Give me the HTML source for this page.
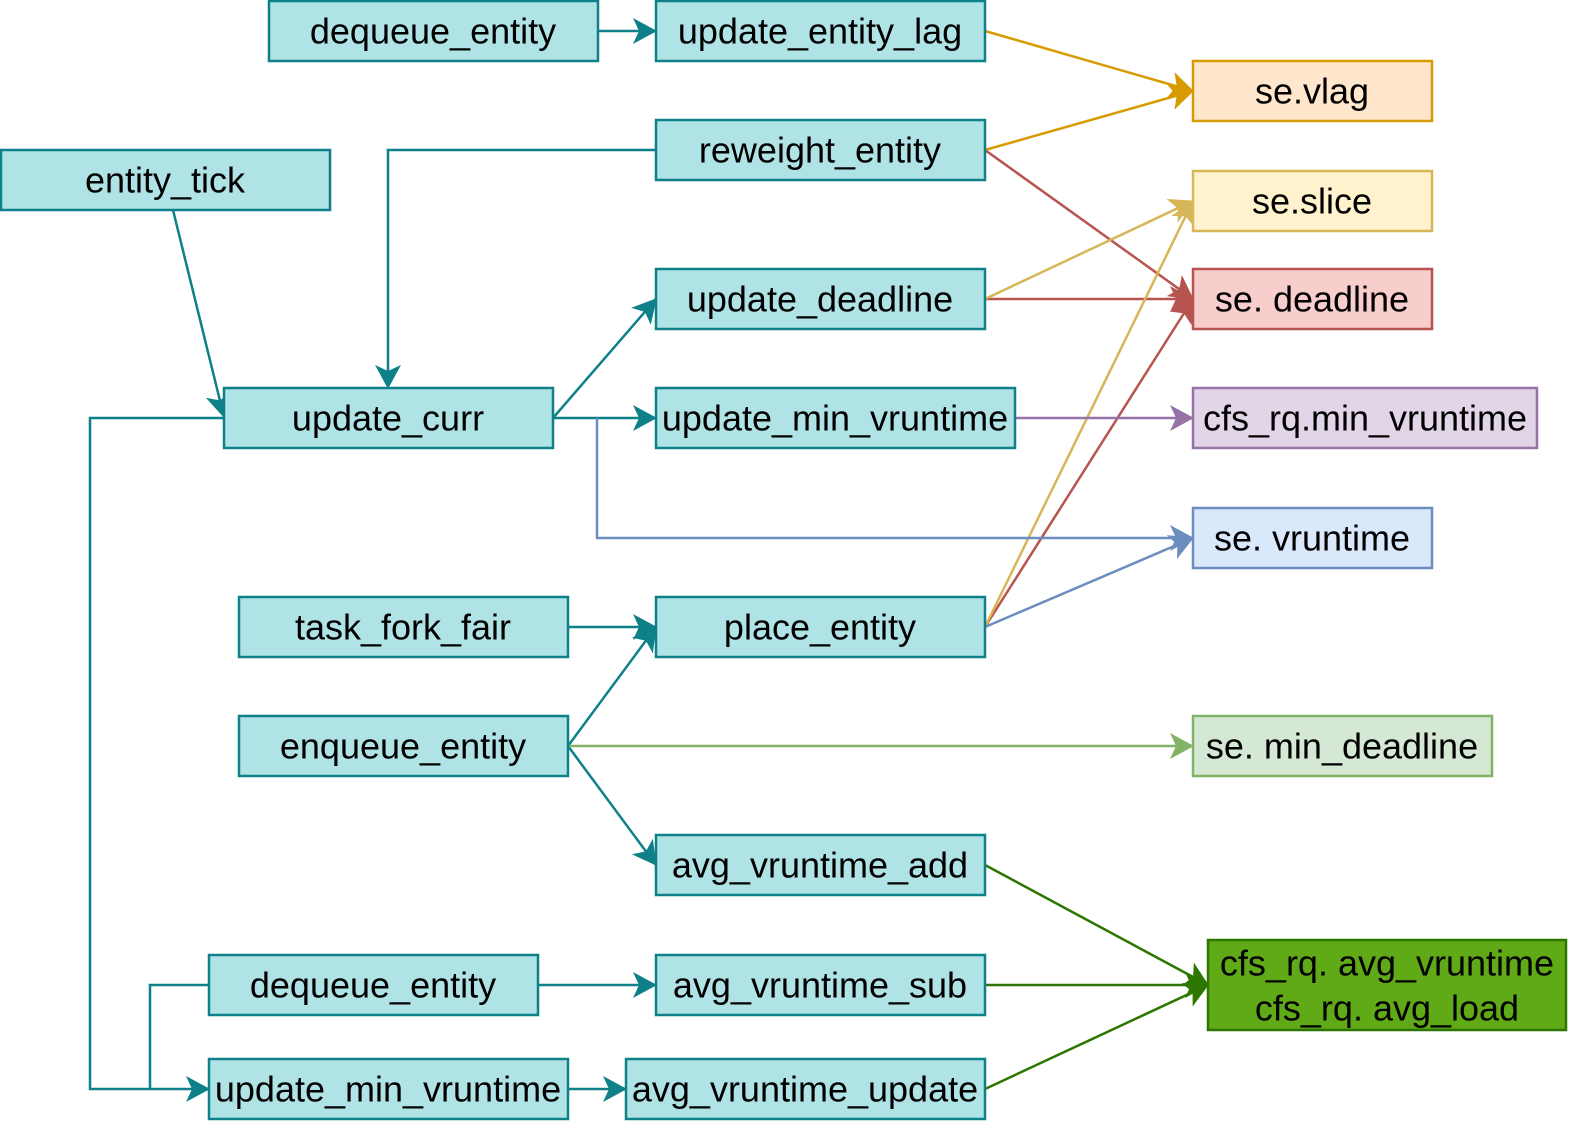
<!DOCTYPE html>
<html><head><meta charset="utf-8"><style>
html,body{margin:0;padding:0;background:#fff;}
svg{display:block;}
text{font-family:"Liberation Sans",Arial,sans-serif;font-size:36px;fill:#000;text-anchor:middle;dominant-baseline:central;}
</style></head><body>
<svg width="1578" height="1131" viewBox="0 0 1578 1131" xmlns="http://www.w3.org/2000/svg">
<defs>
<marker id="mt" viewBox="0 0 10 10" refX="9" refY="5" markerWidth="10" markerHeight="10" markerUnits="userSpaceOnUse" orient="auto" overflow="visible"><path d="M-14,-8 L10,5 L-14,18 L-8,5 Z" fill="#0e8088"/></marker>
<marker id="mo" viewBox="0 0 10 10" refX="9" refY="5" markerWidth="10" markerHeight="10" markerUnits="userSpaceOnUse" orient="auto" overflow="visible"><path d="M-14,-8 L10,5 L-14,18 L-8,5 Z" fill="#d79b00"/></marker>
<marker id="mr" viewBox="0 0 10 10" refX="9" refY="5" markerWidth="10" markerHeight="10" markerUnits="userSpaceOnUse" orient="auto" overflow="visible"><path d="M-14,-8 L10,5 L-14,18 L-8,5 Z" fill="#b85450"/></marker>
<marker id="my" viewBox="0 0 10 10" refX="9" refY="5" markerWidth="10" markerHeight="10" markerUnits="userSpaceOnUse" orient="auto" overflow="visible"><path d="M-14,-8 L10,5 L-14,18 L-8,5 Z" fill="#d6b656"/></marker>
<marker id="mp" viewBox="0 0 10 10" refX="9" refY="5" markerWidth="10" markerHeight="10" markerUnits="userSpaceOnUse" orient="auto" overflow="visible"><path d="M-14,-8 L10,5 L-14,18 L-8,5 Z" fill="#9673a6"/></marker>
<marker id="mb" viewBox="0 0 10 10" refX="9" refY="5" markerWidth="10" markerHeight="10" markerUnits="userSpaceOnUse" orient="auto" overflow="visible"><path d="M-14,-8 L10,5 L-14,18 L-8,5 Z" fill="#6c8ebf"/></marker>
<marker id="mg" viewBox="0 0 10 10" refX="9" refY="5" markerWidth="10" markerHeight="10" markerUnits="userSpaceOnUse" orient="auto" overflow="visible"><path d="M-14,-8 L10,5 L-14,18 L-8,5 Z" fill="#82b366"/></marker>
<marker id="md" viewBox="0 0 10 10" refX="9" refY="5" markerWidth="10" markerHeight="10" markerUnits="userSpaceOnUse" orient="auto" overflow="visible"><path d="M-14,-8 L10,5 L-14,18 L-8,5 Z" fill="#2d7600"/></marker>
</defs>

<g fill="none" stroke-width="2.5">
<g stroke="#0e8088">
<line x1="598" y1="31" x2="656" y2="31" marker-end="url(#mt)"/>
<polyline points="656,150 388,150 388,388" marker-end="url(#mt)"/>
<line x1="173" y1="210" x2="224" y2="417" marker-end="url(#mt)"/>
<line x1="553" y1="418" x2="656" y2="299" marker-end="url(#mt)"/>
<line x1="553" y1="418" x2="656" y2="418" marker-end="url(#mt)"/>
<polyline points="224,418 90,418 90,1089 209,1089" marker-end="url(#mt)"/>
<line x1="568" y1="627" x2="656" y2="627" marker-end="url(#mt)"/>
<line x1="568" y1="746" x2="656" y2="627" marker-end="url(#mt)"/>
<line x1="568" y1="746" x2="656" y2="865" marker-end="url(#mt)"/>
<polyline points="209,985 150,985 150,1089"/>
<line x1="538" y1="985" x2="656" y2="985" marker-end="url(#mt)"/>
<line x1="568" y1="1089" x2="626" y2="1089" marker-end="url(#mt)"/>
</g>
<g stroke="#d79b00">
<line x1="985" y1="31" x2="1193" y2="91" marker-end="url(#mo)"/>
<line x1="985" y1="150" x2="1193" y2="91" marker-end="url(#mo)"/>
</g>
<g stroke="#b85450">
<line x1="985" y1="150" x2="1193" y2="299" marker-end="url(#mr)"/>
<line x1="985" y1="299" x2="1193" y2="299" marker-end="url(#mr)"/>
<line x1="985" y1="627" x2="1193" y2="299" marker-end="url(#mr)"/>
</g>
<g stroke="#d6b656">
<line x1="985" y1="299" x2="1193" y2="201" marker-end="url(#my)"/>
<line x1="985" y1="627" x2="1193" y2="201" marker-end="url(#my)"/>
</g>
<line stroke="#9673a6" x1="1015" y1="418" x2="1193" y2="418" marker-end="url(#mp)"/>
<g stroke="#6c8ebf">
<polyline points="597,418 597,538 1193,538" marker-end="url(#mb)"/>
<line x1="985" y1="627" x2="1193" y2="538" marker-end="url(#mb)"/>
</g>
<line stroke="#82b366" x1="568" y1="746" x2="1193" y2="746" marker-end="url(#mg)"/>
<g stroke="#2d7600">
<line x1="985" y1="865" x2="1208" y2="985" marker-end="url(#md)"/>
<line x1="985" y1="985" x2="1208" y2="985" marker-end="url(#md)"/>
<line x1="985" y1="1089" x2="1208" y2="985" marker-end="url(#md)"/>
</g>
</g>

<g stroke-width="2.5">
<g fill="#b0e3e6" stroke="#0e8088">
<rect x="269" y="1" width="329" height="60"/>
<rect x="656" y="1" width="329" height="60"/>
<rect x="1" y="150" width="329" height="60"/>
<rect x="656" y="120" width="329" height="60"/>
<rect x="656" y="269" width="329" height="60"/>
<rect x="224" y="388" width="329" height="60"/>
<rect x="656" y="388" width="359" height="60"/>
<rect x="239" y="597" width="329" height="60"/>
<rect x="656" y="597" width="329" height="60"/>
<rect x="239" y="716" width="329" height="60"/>
<rect x="656" y="835" width="329" height="60"/>
<rect x="209" y="955" width="329" height="60"/>
<rect x="656" y="955" width="329" height="60"/>
<rect x="209" y="1059" width="359" height="60"/>
<rect x="626" y="1059" width="359" height="60"/>
</g>
<rect x="1193" y="61" width="239" height="60" fill="#ffe6cc" stroke="#d79b00"/>
<rect x="1193" y="171" width="239" height="60" fill="#fff2cc" stroke="#d6b656"/>
<rect x="1193" y="269" width="239" height="60" fill="#f8cecc" stroke="#b85450"/>
<rect x="1193" y="388" width="344" height="60" fill="#e1d5e7" stroke="#9673a6"/>
<rect x="1193" y="508" width="239" height="60" fill="#dae8fc" stroke="#6c8ebf"/>
<rect x="1193" y="716" width="299" height="60" fill="#d5e8d4" stroke="#82b366"/>
<rect x="1208" y="940" width="358" height="90" fill="#60a917" stroke="#2d7600"/>
</g>

<text x="433" y="31">dequeue_entity</text>
<text x="820" y="31">update_entity_lag</text>
<text x="165" y="180">entity_tick</text>
<text x="820" y="150">reweight_entity</text>
<text x="820" y="299">update_deadline</text>
<text x="388" y="418">update_curr</text>
<text x="835" y="418">update_min_vruntime</text>
<text x="403" y="627">task_fork_fair</text>
<text x="820" y="627">place_entity</text>
<text x="403" y="746">enqueue_entity</text>
<text x="820" y="865">avg_vruntime_add</text>
<text x="373" y="985">dequeue_entity</text>
<text x="820" y="985">avg_vruntime_sub</text>
<text x="388" y="1089">update_min_vruntime</text>
<text x="805" y="1089">avg_vruntime_update</text>
<text x="1312" y="91">se.vlag</text>
<text x="1312" y="201">se.slice</text>
<text x="1312" y="299">se. deadline</text>
<text x="1365" y="418">cfs_rq.min_vruntime</text>
<text x="1312" y="538">se. vruntime</text>
<text x="1342" y="746">se. min_deadline</text>
<text x="1387" y="963">cfs_rq. avg_vruntime</text>
<text x="1387" y="1008">cfs_rq. avg_load</text>
</svg>
</body></html>
